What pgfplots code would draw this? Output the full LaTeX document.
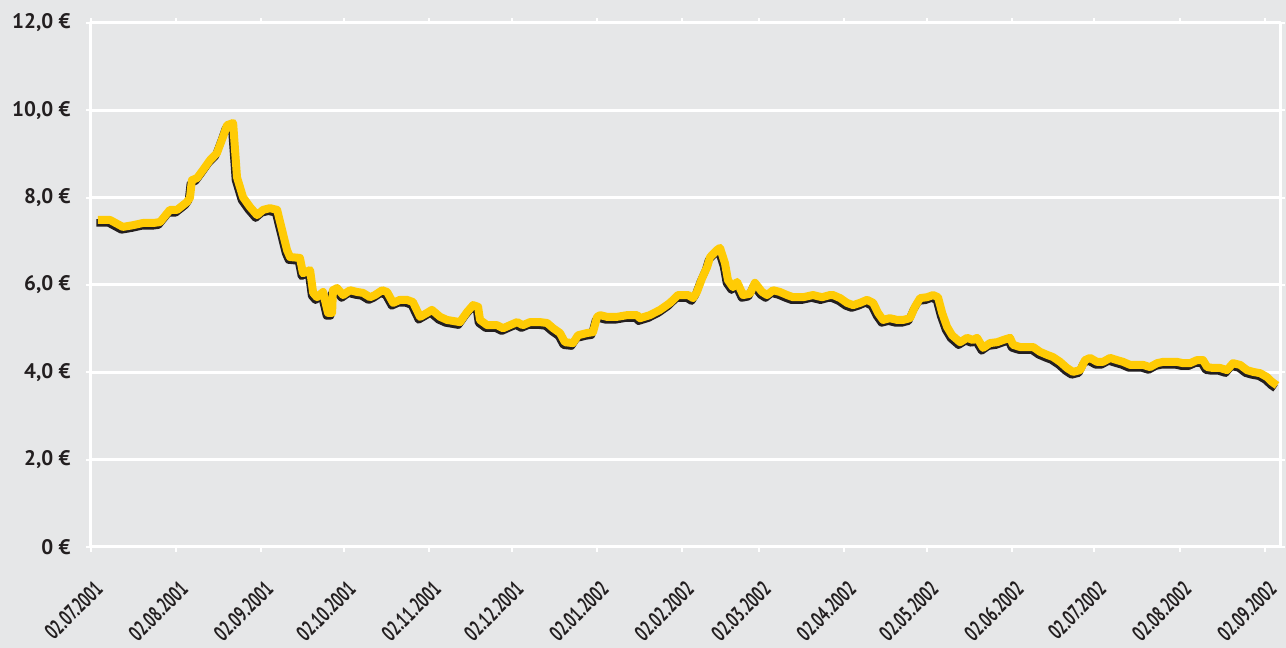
\documentclass[border=0pt]{standalone}
\usepackage{pgfplots}
\pgfplotsset{compat=1.18}
\usepackage{pgfplotstable}
\usepackage{fontspec}
\setmainfont{PT Sans}
\definecolor{bg}{HTML}{E6E7E8}
\definecolor{txt}{HTML}{231F20}
\definecolor{gold}{HTML}{FFCB05}
\newcommand\xl[1]{\scalebox{0.66}[1]{#1}}

\pgfplotstableread{
d v
2.5 7.49
6.9 7.49
11.6 7.33
15.3 7.37
18.9 7.42
22.6 7.42
25.1 7.44
28.7 7.72
31.3 7.72
34.9 7.90
36.0 8.00
36.7 8.40
38.6 8.45
40.7 8.63
43.3 8.86
45.8 9.02
48.0 9.39
49.5 9.66
51.7 9.71
53.1 8.47
55.3 8.01
57.8 7.79
60.4 7.60
62.6 7.72
65.1 7.76
67.7 7.72
71.3 6.80
72.4 6.64
76.0 6.62
77.1 6.27
79.7 6.34
80.8 5.82
82.2 5.72
84.4 5.84
86.2 5.36
87.7 5.36
88.0 5.88
89.5 5.93
91.7 5.77
94.2 5.88
96.8 5.84
98.9 5.82
101.5 5.72
103.3 5.77
105.9 5.88
107.7 5.84
109.9 5.59
112.4 5.66
114.9 5.66
117.1 5.61
119.7 5.27
122.2 5.36
124.0 5.43
127.0 5.27
129.5 5.20
134.2 5.15
136.8 5.38
139.0 5.54
140.8 5.50
141.5 5.20
144.1 5.08
147.7 5.08
149.9 5.01
152.4 5.08
155.0 5.15
157.1 5.08
159.7 5.15
163.3 5.15
165.9 5.13
168.1 5.01
170.6 4.90
172.4 4.69
175.3 4.67
177.2 4.85
180.4 4.90
182.6 4.92
184.1 5.27
185.2 5.31
187.7 5.27
191.3 5.27
195.0 5.31
198.6 5.31
199.7 5.24
203.3 5.31
207.0 5.43
210.6 5.59
213.5 5.77
217.2 5.77
219.0 5.70
220.4 5.84
222.3 6.16
224.1 6.41
225.2 6.64
227.7 6.80
228.8 6.85
230.6 6.50
231.7 6.11
233.5 5.95
235.0 6.07
237.2 5.77
239.7 5.80
241.5 6.05
244.1 5.84
245.9 5.77
248.1 5.88
250.6 5.84
253.2 5.77
255.4 5.72
259.0 5.72
262.6 5.77
265.9 5.72
268.8 5.77
269.9 5.77
272.5 5.70
275.0 5.59
277.2 5.54
279.7 5.59
282.3 5.66
284.5 5.59
286.3 5.36
288.1 5.20
290.6 5.24
293.2 5.20
295.4 5.20
297.9 5.24
299.7 5.50
301.6 5.70
304.1 5.72
306.3 5.77
308.1 5.72
309.6 5.36
311.4 5.04
313.2 4.85
316.1 4.69
318.7 4.79
320.8 4.74
322.3 4.79
324.5 4.56
327.0 4.67
329.6 4.69
331.8 4.74
334.3 4.79
335.4 4.63
337.9 4.58
340.5 4.58
342.7 4.58
345.2 4.47
347.8 4.40
349.9 4.35
352.5 4.24
355.0 4.10
357.2 4.01
359.8 4.05
361.6 4.28
363.4 4.33
365.9 4.24
368.1 4.24
370.7 4.33
373.2 4.28
375.4 4.24
378.0 4.17
380.5 4.17
382.7 4.17
385.2 4.12
387.8 4.21
390.0 4.24
392.5 4.24
395.0 4.24
397.2 4.21
399.8 4.21
402.3 4.28
404.5 4.28
406.0 4.12
408.1 4.10
410.7 4.10
413.2 4.05
415.4 4.21
418.0 4.17
420.5 4.05
422.7 4.01
425.3 3.98
427.8 3.89
429.6 3.78
431.4 3.70
}\pricedata

\begin{document}
\begin{tikzpicture}
\fill[bg] (-91pt,-101pt) rectangle (1195pt,547pt);
\begin{axis}[
  scale only axis, width=1189pt, height=524pt,
  at={(0pt,0pt)}, anchor=south west,
  xmin=0, xmax=432.5, ymin=0, ymax=12,
  axis line style={white, line width=3pt},
  tick style={white, line width=2pt},
  major tick length=5pt,
  tick align=outside,
  ymajorgrids, xmajorgrids=false,
  grid style={white, line width=3pt},
  ytick={0,2,4,6,8,10,12},
  yticklabels={0 €,{2,0 €},{4,0 €},{6,0 €},{8,0 €},{10,0 €},{12,0 €}},
  yticklabel style={font=\bfseries\fontsize{21}{21}\selectfont, text=txt, anchor=east, xshift=-12pt},
  xtick={0,31,62,92,123,153,184,215,243,274,304,335,365,396,427},
  xticklabels={\xl{02.07.2001},\xl{02.08.2001},\xl{02.09.2001},\xl{02.10.2001},\xl{02.11.2001},\xl{02.12.2001},\xl{02.01.2002},\xl{02.02.2002},\xl{02.03.2002},\xl{02.04.2002},\xl{02.05.2002},\xl{02.06.2002},\xl{02.07.2002},\xl{02.08.2002},\xl{02.09.2002}},
  xticklabel style={font=\bfseries\fontsize{22}{22}\selectfont, text=txt, inner sep=0pt, xshift=8pt, yshift=-33pt, anchor=east, rotate=45},
  line join=round,
]
\addplot[txt, line width=7.5pt, xshift=-1.5pt, yshift=-3pt, mark=none] table[x=d,y=v]{\pricedata};
\addplot[gold, line width=8pt, mark=none] table[x=d,y=v]{\pricedata};
\end{axis}
\pgfresetboundingbox
\path (-91pt,-101pt) rectangle (1195pt,547pt);
\end{tikzpicture}
\end{document}
